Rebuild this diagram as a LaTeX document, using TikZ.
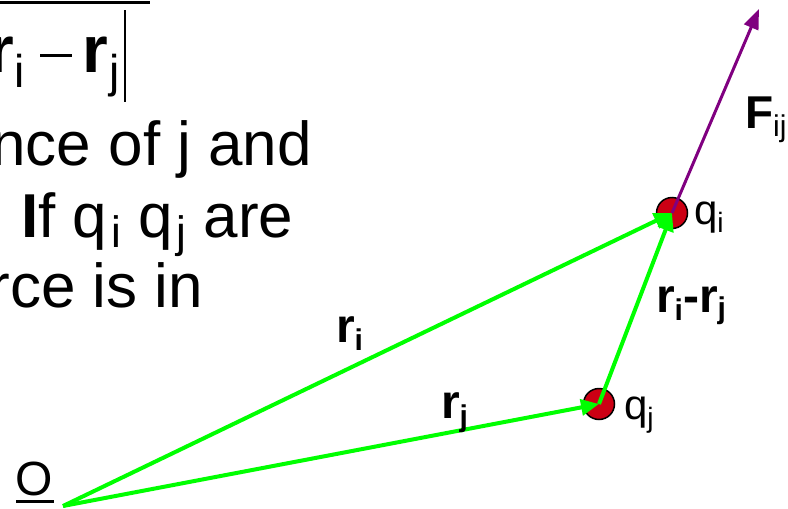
\documentclass[tikz,border=0pt]{standalone}
\usepackage{fontspec}
\setmainfont{Liberation Sans}
\usetikzlibrary{arrows.meta}
\definecolor{vecgreen}{RGB}{0,255,0}
\definecolor{forcepurple}{RGB}{128,0,128}
\definecolor{chargered}{RGB}{204,0,20}
\newcommand\lowsub[3]{\raisebox{-#1}{\fontsize{#2}{#2}\selectfont #3}}
\begin{document}
\begin{tikzpicture}[x=1pt,y=-1pt,
  txt/.style={inner sep=0pt, outer sep=0pt, anchor=base west, font=\fontsize{62}{62}\selectfont},
  lbl/.style={inner sep=0pt, outer sep=0pt, anchor=base west},
  charge/.style={circle, draw=black, line width=1.5pt, fill=chargered, minimum size=31pt, inner sep=0pt},
  vec/.style={draw=vecgreen, line width=4pt, -{Triangle[length=18pt,width=16pt]}},
  force/.style={draw=forcepurple, line width=3pt, -{Triangle[length=20pt,width=15pt]}},
  rule/.style={draw=black, line cap=butt},
]
\useasboundingbox (0,0) rectangle (788,509);
\clip (0,0) rectangle (788,509);

% clipped formula fragment at top
\node[lbl, font=\fontsize{66}{66}\selectfont\bfseries, anchor=base east] (ra) at (14,72) {r};
\node[lbl, font=\fontsize{46}{46}\selectfont] (ia) at (14,87) {i};
\draw[rule, line width=3pt] (40,55) -- (72,55);
\node[lbl, font=\fontsize{66}{66}\selectfont\bfseries] (rb) at (82,72) {r};
\node[lbl, font=\fontsize{46}{46}\selectfont] (jb) at (109,87) {j};
\draw[rule, line width=2pt] (125,10) -- (125,102);
\draw[rule, line width=3pt] (0,2) -- (150,2);

% text lines
\node[txt, anchor=base east] (line2) at (312,165) {nce of j and};
\node[txt] (line3) at (21,237) {{\bfseries I}f q\kern4pt\lowsub{10pt}{44}{i} q\kern4pt\lowsub{10pt}{44}{j} are};
\node[txt, anchor=base east] (line4) at (203,307) {rce is in};

% points
\coordinate (O) at (63,506);
\node[charge] (qj) at (599,404) {};
\node[charge] (qi) at (672,213) {};
\coordinate (Ftip) at (759,9);

% vectors
\draw[force] (qi.center) -- (Ftip);
\draw[vec] (O) -- (qj.center);
\draw[vec] (O) -- (qi.center);
\draw[vec] (qj.center) -- (qi.center);

% labels
\node[lbl, font=\fontsize{46}{46}\selectfont\bfseries] (Flbl) at (745,128) {F\lowsub{8pt}{30}{\mdseries ij}};
\node[lbl, font=\fontsize{42}{42}\selectfont] (qilbl) at (694,224) {q\lowsub{8pt}{28}{i}};
\node[lbl, font=\fontsize{42}{42}\selectfont] (qjlbl) at (624,419) {q\lowsub{8pt}{28}{j}};
\node[lbl, font=\fontsize{48}{48}\selectfont\bfseries] (rilbl) at (336,342) {r\lowsub{8pt}{30}{i}};
\node[lbl, font=\fontsize{48}{48}\selectfont\bfseries] (rjlbl) at (441,418) {r\lowsub{8pt}{30}{j}};
\node[lbl, font=\fontsize{48}{48}\selectfont\bfseries] (rijlbl) at (656,312) {r\lowsub{8pt}{30}{i}-r\lowsub{6pt}{30}{j}};
\node[lbl, font=\fontsize{48}{48}\selectfont] (Olbl) at (16,495) {O};
\draw[rule, line width=3pt] (16,501) -- (54,501);
\end{tikzpicture}
\end{document}
